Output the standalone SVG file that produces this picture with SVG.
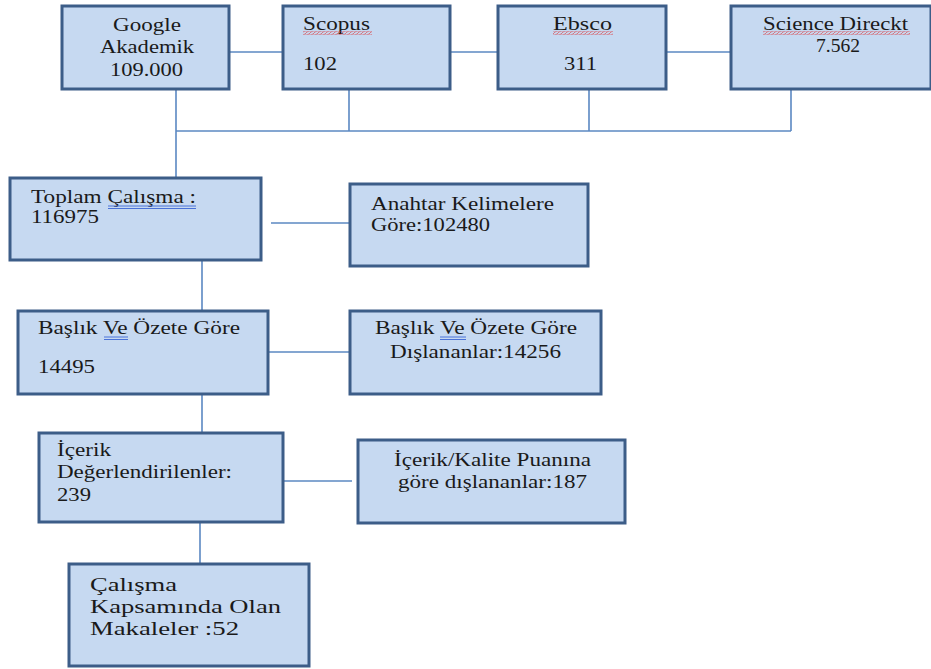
<svg xmlns="http://www.w3.org/2000/svg" width="931" height="669" viewBox="0 0 931 669">
<style>
.box{fill:#c6d9f1;stroke:#3c5d88;stroke-width:3}
.conn{stroke:#5b88c2;stroke-width:1.6;fill:none}
.t{font-family:'Liberation Serif','Times New Roman',serif;font-size:18px;fill:#1a1a1a}
.sq{stroke:none}
.ul{stroke:#4a72d8;stroke-width:1;fill:none}
</style>
<defs>
<pattern id="wave" width="4" height="3" patternUnits="userSpaceOnUse">
<path d="M0 2 L1 0.6 L3 2.4 L4 1" stroke="#e02020" stroke-width="0.9" fill="none"/>
</pattern>
</defs>
<rect width="931" height="669" fill="#ffffff"/>
<g id="connectors">
<line class="conn" x1="229" y1="52" x2="282" y2="52"/>
<line class="conn" x1="450" y1="52" x2="498" y2="52"/>
<line class="conn" x1="666" y1="52" x2="730" y2="52"/>
<line class="conn" x1="176" y1="89" x2="176" y2="178"/>
<line class="conn" x1="349" y1="89" x2="349" y2="131"/>
<line class="conn" x1="589" y1="89" x2="589" y2="131"/>
<line class="conn" x1="791" y1="89" x2="791" y2="131"/>
<line class="conn" x1="176" y1="131" x2="791" y2="131"/>
<line class="conn" x1="271" y1="223" x2="350" y2="223"/>
<line class="conn" x1="202" y1="260" x2="202" y2="311"/>
<line class="conn" x1="268" y1="352" x2="350" y2="352"/>
<line class="conn" x1="202" y1="394" x2="202" y2="433"/>
<line class="conn" x1="283" y1="481" x2="352" y2="481"/>
<line class="conn" x1="200" y1="522" x2="200" y2="564"/>
</g>
<g class="t">
<g id="google">
<rect class="box" x="62" y="6" width="167" height="83"/>
<text x="113" y="31" textLength="68" lengthAdjust="spacingAndGlyphs">Google</text>
<text x="100" y="53" textLength="94" lengthAdjust="spacingAndGlyphs">Akademik</text>
<text x="110" y="76" textLength="73" lengthAdjust="spacingAndGlyphs">109.000</text>
</g>
<g id="scopus">
<rect class="box" x="283" y="6" width="167" height="83"/>
<text x="303" y="30" textLength="67" lengthAdjust="spacingAndGlyphs">Scopus</text>
<rect class="sq" x="303" y="31.5" width="69" height="3" fill="url(#wave)"/>
<text x="303" y="70" textLength="34" lengthAdjust="spacingAndGlyphs">102</text>
</g>
<g id="ebsco">
<rect class="box" x="498" y="6" width="168" height="83"/>
<text x="553" y="30" textLength="59" lengthAdjust="spacingAndGlyphs">Ebsco</text>
<rect class="sq" x="553" y="31.5" width="60" height="3" fill="url(#wave)"/>
<text x="564" y="70" textLength="33" lengthAdjust="spacingAndGlyphs">311</text>
</g>
<g id="science">
<rect class="box" x="731" y="6" width="200" height="83"/>
<text x="763" y="30" textLength="145" lengthAdjust="spacingAndGlyphs">Science Direckt</text>
<rect class="sq" x="763" y="31.5" width="147" height="3" fill="url(#wave)"/>
<text x="816" y="52" textLength="44" lengthAdjust="spacingAndGlyphs">7.562</text>
</g>
<g id="toplam">
<rect class="box" x="10" y="178" width="251" height="82"/>
<text x="31" y="203" textLength="165" lengthAdjust="spacingAndGlyphs">Toplam Çalışma :</text>
<path class="ul" d="M108 206 H196 M108 208.5 H196"/>
<text x="31" y="223" textLength="68" lengthAdjust="spacingAndGlyphs">116975</text>
</g>
<g id="anahtar">
<rect class="box" x="350" y="184" width="238" height="82"/>
<text x="371" y="210" textLength="183" lengthAdjust="spacingAndGlyphs">Anahtar Kelimelere</text>
<text x="371" y="231" textLength="119" lengthAdjust="spacingAndGlyphs">Göre:102480</text>
</g>
<g id="baslik">
<rect class="box" x="18" y="311" width="250" height="83"/>
<text x="38" y="334" textLength="202" lengthAdjust="spacingAndGlyphs">Başlık Ve Özete Göre</text>
<path class="ul" d="M104 337 H128 M104 339.5 H128"/>
<text x="38" y="373" textLength="57" lengthAdjust="spacingAndGlyphs">14495</text>
</g>
<g id="dislananlar">
<rect class="box" x="350" y="311" width="251" height="83"/>
<text x="375" y="334" textLength="202" lengthAdjust="spacingAndGlyphs">Başlık Ve Özete Göre</text>
<path class="ul" d="M440 337 H466 M440 339.5 H466"/>
<text x="390" y="358" textLength="171" lengthAdjust="spacingAndGlyphs">Dışlananlar:14256</text>
</g>
<g id="icerik">
<rect class="box" x="39" y="433" width="244" height="89"/>
<text x="57" y="456" textLength="54" lengthAdjust="spacingAndGlyphs">İçerik</text>
<text x="57" y="478" textLength="175" lengthAdjust="spacingAndGlyphs">Değerlendirilenler:</text>
<text x="57" y="501" textLength="34" lengthAdjust="spacingAndGlyphs">239</text>
</g>
<g id="kalite">
<rect class="box" x="358" y="440" width="267" height="83"/>
<text x="394" y="466" textLength="197" lengthAdjust="spacingAndGlyphs">İçerik/Kalite Puanına</text>
<text x="398" y="488" textLength="189" lengthAdjust="spacingAndGlyphs">göre dışlananlar:187</text>
</g>
<g id="calisma">
<rect class="box" x="69" y="564" width="240" height="102"/>
<text x="90" y="591" textLength="87" lengthAdjust="spacingAndGlyphs">Çalışma</text>
<text x="90" y="613" textLength="191" lengthAdjust="spacingAndGlyphs">Kapsamında Olan</text>
<text x="90" y="635" textLength="149" lengthAdjust="spacingAndGlyphs">Makaleler :52</text>
</g>
</g>
</svg>
